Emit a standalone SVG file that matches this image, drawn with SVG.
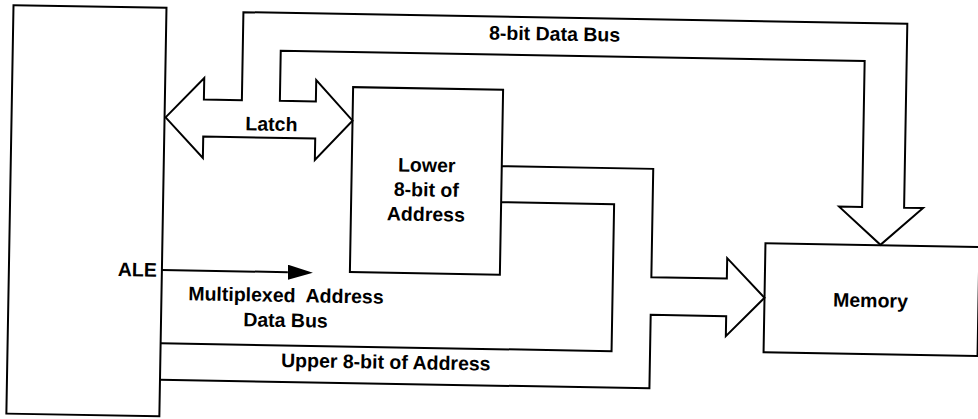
<svg xmlns="http://www.w3.org/2000/svg" width="978" height="419" viewBox="0 0 978 419">
<style>
.ln{fill:none;stroke:#000;stroke-width:2;stroke-linejoin:miter}
.bx{fill:#fff;stroke:#000;stroke-width:2}
.t{font-family:"Liberation Sans",Arial,Helvetica,sans-serif;font-weight:bold;font-size:19.5px;fill:#000}
.m{text-anchor:middle}
.e{text-anchor:end}
</style>
<defs>
<marker id="ah" markerUnits="userSpaceOnUse" markerWidth="26" markerHeight="16" refX="0" refY="7.5" orient="auto">
<path d="M0,0 L25,7.5 L0,15 Z" fill="#000"/>
</marker>
</defs>
<rect width="978" height="419" fill="#fff"/>
<g transform="rotate(1 489 210)">
<g id="cpu">
<rect class="bx" x="10" y="13.5" width="153" height="408.5"/>
<text class="t e" x="158" y="282.5">ALE</text>
</g>
<g id="lower-address-latch">
<rect class="bx" x="351" y="89.5" width="150" height="185"/>
<text class="t m" x="426" y="173">Lower</text>
<text class="t m" x="426" y="197.5">8-bit of</text>
<text class="t m" x="426" y="222">Address</text>
</g>
<g id="memory">
<rect class="bx" x="766" y="238.5" width="214" height="109"/>
<text class="t m" x="872" y="300.5">Memory</text>
</g>
<g id="connectors">
<path class="ln" d="M164,123 L202,83 L202,104.5 L240,104.5 L240,16.5 L904,16.5 L904,200.5 L923,200.5 L881,238 L839,200.5 L862,200.5 L862,54.5 L278,54.5 L278,104.5 L314,104.5 L314,83 L351,123 L314,163 L314,141.5 L202,141.5 L202,163 Z"/>
<path class="ln" d="M501,166 L652.5,166 L652.5,274.3 L728,274.3 L728,254 L766,293 L728,332 L728,312 L652.5,312 L652.5,385.5 L163,385.5"/>
<path class="ln" d="M163,349 L614,349 L614,202 L501,202"/>
<line class="ln" x1="163" y1="275.7" x2="289" y2="275.7" marker-end="url(#ah)"/>
<text class="t m" x="551.5" y="39.5">8-bit Data Bus</text>
<text class="t m" x="270" y="134.5">Latch</text>
<text class="t m" x="287.5" y="305.5" xml:space="preserve">Multiplexed  Address</text>
<text class="t m" x="287.5" y="330.5">Data Bus</text>
<text class="t m" x="388.5" y="370.5">Upper 8-bit of Address</text>
</g>
</g>
</svg>
